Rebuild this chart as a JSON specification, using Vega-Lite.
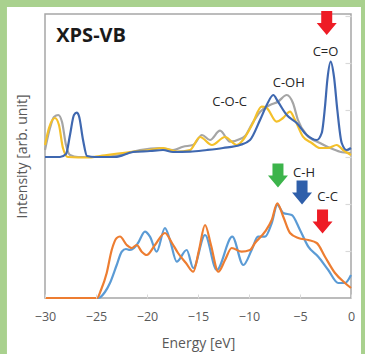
{
  "$schema": "https://vega.github.io/schema/vega-lite/v6.json",
  "width": 306,
  "height": 284,
  "autosize": {"type": "none"},
  "padding": {"left": 45, "top": 14, "right": 14, "bottom": 56},
  "background": "#a9d18e",
  "config": {"view": {"stroke": null}, "font": "Open Sans"},
  "datasets": {
    "top_gray": [
      {"energy": -30, "intensity": 148}, {"energy": -29.51, "intensity": 170}, {"energy": -29.12, "intensity": 181},
      {"energy": -28.7, "intensity": 183}, {"energy": -28.33, "intensity": 176}, {"energy": -27.94, "intensity": 153},
      {"energy": -27.55, "intensity": 143}, {"energy": -26.76, "intensity": 141}, {"energy": -24.61, "intensity": 141},
      {"energy": -22.65, "intensity": 143}, {"energy": -20.69, "intensity": 148}, {"energy": -18.73, "intensity": 150},
      {"energy": -17.45, "intensity": 148}, {"energy": -16.47, "intensity": 151.3}, {"energy": -15.49, "intensity": 153},
      {"energy": -14.61, "intensity": 163}, {"energy": -13.82, "intensity": 158}, {"energy": -12.84, "intensity": 167.3},
      {"energy": -11.86, "intensity": 156.3}, {"energy": -10.88, "intensity": 159}, {"energy": -10.39, "intensity": 162},
      {"energy": -9.71, "intensity": 174}, {"energy": -8.92, "intensity": 186}, {"energy": -7.94, "intensity": 193},
      {"energy": -7.16, "intensity": 196.3}, {"energy": -6.3, "intensity": 203}, {"energy": -5.69, "intensity": 195},
      {"energy": -5.2, "intensity": 178}, {"energy": -4.34, "intensity": 163}, {"energy": -3.04, "intensity": 155},
      {"energy": -2.06, "intensity": 150}, {"energy": -1.08, "intensity": 146.3}, {"energy": 0, "intensity": 145}
    ],
    "top_yellow": [
      {"energy": -30, "intensity": 153}, {"energy": -29.61, "intensity": 170}, {"energy": -29.02, "intensity": 180},
      {"energy": -28.63, "intensity": 173}, {"energy": -28.24, "intensity": 150}, {"energy": -27.75, "intensity": 141},
      {"energy": -25.78, "intensity": 140.5}, {"energy": -24.61, "intensity": 142}, {"energy": -21.67, "intensity": 146},
      {"energy": -19.71, "intensity": 148}, {"energy": -18.43, "intensity": 150}, {"energy": -17.06, "intensity": 146.3},
      {"energy": -15.78, "intensity": 148}, {"energy": -14.8, "intensity": 161}, {"energy": -13.63, "intensity": 153},
      {"energy": -12.35, "intensity": 161}, {"energy": -11.18, "intensity": 153}, {"energy": -10.59, "intensity": 158},
      {"energy": -9.71, "intensity": 173}, {"energy": -8.76, "intensity": 191.3}, {"energy": -8.27, "intensity": 190},
      {"energy": -7.29, "intensity": 176.3}, {"energy": -6.67, "intensity": 180}, {"energy": -5.98, "intensity": 186.3},
      {"energy": -5.49, "intensity": 178}, {"energy": -4.71, "intensity": 161.3}, {"energy": -3.85, "intensity": 155},
      {"energy": -3.04, "intensity": 150}, {"energy": -2.25, "intensity": 150}, {"energy": -1.4, "intensity": 153},
      {"energy": -0.78, "intensity": 148}, {"energy": 0, "intensity": 143}
    ],
    "top_blue": [
      {"energy": -30, "intensity": 141}, {"energy": -28.53, "intensity": 141}, {"energy": -27.94, "intensity": 144},
      {"energy": -27.55, "intensity": 163}, {"energy": -27.16, "intensity": 183}, {"energy": -26.89, "intensity": 185.3},
      {"energy": -26.67, "intensity": 182}, {"energy": -26.27, "intensity": 158}, {"energy": -25.88, "intensity": 142},
      {"energy": -25.1, "intensity": 141}, {"energy": -23.14, "intensity": 141}, {"energy": -21.37, "intensity": 146},
      {"energy": -19.71, "intensity": 147}, {"energy": -18.43, "intensity": 148}, {"energy": -17.45, "intensity": 146},
      {"energy": -15.78, "intensity": 146.3}, {"energy": -14.12, "intensity": 148}, {"energy": -12.55, "intensity": 150},
      {"energy": -10.88, "intensity": 153}, {"energy": -9.9, "intensity": 158}, {"energy": -8.92, "intensity": 178},
      {"energy": -8.26, "intensity": 193}, {"energy": -7.62, "intensity": 203}, {"energy": -7.16, "intensity": 196.3},
      {"energy": -6.3, "intensity": 183}, {"energy": -5.32, "intensity": 175}, {"energy": -4.34, "intensity": 163},
      {"energy": -3.36, "intensity": 158}, {"energy": -2.87, "intensity": 165}, {"energy": -2.55, "intensity": 191.3},
      {"energy": -2.32, "intensity": 218}, {"energy": -1.99, "intensity": 236.3}, {"energy": -1.67, "intensity": 221.3},
      {"energy": -1.34, "intensity": 188}, {"energy": -0.91, "intensity": 155}, {"energy": -0.42, "intensity": 148},
      {"energy": 0, "intensity": 150}
    ],
    "bottom_blue": [
      {"energy": -30, "intensity": 0}, {"energy": -24.8, "intensity": 0}, {"energy": -24.12, "intensity": 6},
      {"energy": -23.63, "intensity": 15}, {"energy": -22.97, "intensity": 33}, {"energy": -22.48, "intensity": 46.3},
      {"energy": -22.06, "intensity": 49}, {"energy": -21.67, "intensity": 48}, {"energy": -21.27, "intensity": 50},
      {"energy": -20.88, "intensity": 55}, {"energy": -20.2, "intensity": 66.3}, {"energy": -19.71, "intensity": 61.3},
      {"energy": -19.05, "intensity": 46.3}, {"energy": -18.24, "intensity": 70}, {"energy": -17.75, "intensity": 58},
      {"energy": -17.09, "intensity": 36.3}, {"energy": -16.11, "intensity": 48}, {"energy": -15.46, "intensity": 30},
      {"energy": -14.31, "intensity": 63}, {"energy": -13.17, "intensity": 28}, {"energy": -11.64, "intensity": 61.3},
      {"energy": -10.56, "intensity": 33}, {"energy": -9.74, "intensity": 48}, {"energy": -9.12, "intensity": 61.3},
      {"energy": -8.43, "intensity": 61.3}, {"energy": -7.77, "intensity": 75}, {"energy": -7.23, "intensity": 93},
      {"energy": -6.64, "intensity": 85}, {"energy": -5.81, "intensity": 83}, {"energy": -5.0, "intensity": 68},
      {"energy": -4.19, "intensity": 51.3}, {"energy": -3.21, "intensity": 41.3}, {"energy": -2.23, "intensity": 28},
      {"energy": -1.25, "intensity": 15}, {"energy": -0.59, "intensity": 15}, {"energy": 0, "intensity": 23}
    ],
    "bottom_orange": [
      {"energy": -30, "intensity": 0}, {"energy": -24.9, "intensity": 0}, {"energy": -24.51, "intensity": 8},
      {"energy": -23.95, "intensity": 25}, {"energy": -23.46, "intensity": 48}, {"energy": -22.97, "intensity": 60},
      {"energy": -22.65, "intensity": 61.5}, {"energy": -21.99, "intensity": 53}, {"energy": -21.5, "intensity": 50},
      {"energy": -21.01, "intensity": 53}, {"energy": -20.52, "intensity": 46.3}, {"energy": -20.03, "intensity": 43},
      {"energy": -19.22, "intensity": 53}, {"energy": -18.24, "intensity": 65}, {"energy": -17.55, "intensity": 55},
      {"energy": -16.96, "intensity": 45}, {"energy": -16.18, "intensity": 35}, {"energy": -15.46, "intensity": 26.3},
      {"energy": -14.9, "intensity": 48}, {"energy": -14.31, "intensity": 73}, {"energy": -13.73, "intensity": 53},
      {"energy": -13.01, "intensity": 26.3}, {"energy": -12.35, "intensity": 38}, {"energy": -11.7, "intensity": 50},
      {"energy": -10.72, "intensity": 46.3}, {"energy": -9.9, "intensity": 48}, {"energy": -9.41, "intensity": 55},
      {"energy": -8.43, "intensity": 66.3}, {"energy": -7.77, "intensity": 78}, {"energy": -7.23, "intensity": 94.7},
      {"energy": -6.64, "intensity": 81.3}, {"energy": -5.98, "intensity": 65}, {"energy": -5.17, "intensity": 60},
      {"energy": -4.19, "intensity": 58}, {"energy": -3.36, "intensity": 55}, {"energy": -2.55, "intensity": 41.3},
      {"energy": -1.57, "intensity": 25}, {"energy": -0.59, "intensity": 15}, {"energy": 0, "intensity": 10}
    ],
    "labels": [
      {"energy": -2.5, "intensity": 246, "label": "C=O"},
      {"energy": -6.1, "intensity": 215, "label": "C-OH"},
      {"energy": -11.9, "intensity": 196, "label": "C-O-C"},
      {"energy": -4.6, "intensity": 125, "label": "C-H"},
      {"energy": -2.3, "intensity": 101, "label": "C-C"}
    ],
    "arrows": [
      {"energy": -2.38, "intensity": 275, "kind": "red"},
      {"energy": -7.16, "intensity": 122.5, "kind": "green"},
      {"energy": -4.8, "intensity": 105.5, "kind": "blue"},
      {"energy": -2.79, "intensity": 76.5, "kind": "red"}
    ]
  },
  "layer": [
    {
      "data": {"values": [{}]},
      "mark": {"type": "rect", "fill": "white", "clip": false},
      "encoding": {
        "x": {"datum": -33.73, "type": "quantitative", "scale": {"domain": [-30, 0], "nice": false, "zero": false},
          "axis": {"title": "Energy [eV]", "values": [-30, -25, -20, -15, -10, -5, 0], "labelFontSize": 12.5, "labelColor": "#595959",
            "titleFontSize": 14, "titleColor": "#595959", "titleFontWeight": "normal", "titlePadding": 14, "domain": false,
            "labelFlush": false, "ticks": true, "tickSize": -4, "tickColor": "#d9d9d9", "labelPadding": 16, "grid": false, "zindex": 1}},
        "x2": {"datum": 0.98},
        "y": {"datum": 291, "type": "quantitative", "scale": {"domain": [0, 284], "nice": false},
          "axis": {"title": "Intensity [arb. unit]", "labels": false, "ticks": false, "domain": false, "grid": false,
            "titleFontSize": 14, "titleColor": "#595959", "titleFontWeight": "normal", "titlePadding": 16, "zindex": 1}},
        "y2": {"datum": -62}
      }
    },
    {
      "data": {"values": [{}]},
      "mark": {"type": "rect", "fill": null, "stroke": "#a6a6a6", "strokeWidth": 1.5, "clip": false},
      "encoding": {
        "x": {"datum": -30, "type": "quantitative"},
        "x2": {"datum": 0},
        "y": {"datum": 0, "type": "quantitative",
          "axis": {"orient": "right", "title": null, "labels": false, "domain": false, "grid": false, "ticks": true,
            "tickSize": -6, "tickColor": "#d9d9d9", "tickWidth": 1.2, "values": [47, 94, 141, 188, 235, 282], "zindex": 1}},
        "y2": {"datum": 284}
      }
    },
    {
      "data": {"name": "top_gray"},
      "mark": {"type": "line", "interpolate": "monotone", "color": "#a5a5a5", "strokeWidth": 2.2},
      "encoding": {"x": {"field": "energy", "type": "quantitative"}, "y": {"field": "intensity", "type": "quantitative", "axis": null}}
    },
    {
      "data": {"name": "top_yellow"},
      "mark": {"type": "line", "interpolate": "monotone", "color": "#f4c02a", "strokeWidth": 2.2},
      "encoding": {"x": {"field": "energy", "type": "quantitative"}, "y": {"field": "intensity", "type": "quantitative", "axis": null}}
    },
    {
      "data": {"name": "top_blue"},
      "mark": {"type": "line", "interpolate": "monotone", "color": "#3f68b0", "strokeWidth": 2.2},
      "encoding": {"x": {"field": "energy", "type": "quantitative"}, "y": {"field": "intensity", "type": "quantitative", "axis": null}}
    },
    {
      "data": {"name": "bottom_blue"},
      "mark": {"type": "line", "interpolate": "monotone", "color": "#5b9bd5", "strokeWidth": 2.2},
      "encoding": {"x": {"field": "energy", "type": "quantitative"}, "y": {"field": "intensity", "type": "quantitative", "axis": null}}
    },
    {
      "data": {"name": "bottom_orange"},
      "mark": {"type": "line", "interpolate": "monotone", "color": "#ed7d31", "strokeWidth": 2.2},
      "encoding": {"x": {"field": "energy", "type": "quantitative"}, "y": {"field": "intensity", "type": "quantitative", "axis": null}}
    },
    {
      "data": {"name": "labels"},
      "mark": {"type": "text", "fontSize": 13, "color": "#262626", "align": "center", "baseline": "middle"},
      "encoding": {"x": {"field": "energy", "type": "quantitative"}, "y": {"field": "intensity", "type": "quantitative", "axis": null}, "text": {"field": "label"}}
    },
    {
      "data": {"values": [{"energy": -28.9, "intensity": 262, "label": "XPS-VB"}]},
      "mark": {"type": "text", "fontSize": 20, "fontWeight": "bold", "color": "#1a1a1a", "align": "left", "baseline": "middle"},
      "encoding": {"x": {"field": "energy", "type": "quantitative"}, "y": {"field": "intensity", "type": "quantitative", "axis": null}, "text": {"field": "label"}}
    },
    {
      "data": {"name": "arrows"},
      "mark": {"type": "point", "filled": true, "opacity": 1, "clip": false,
        "shape": "M-0.55,-1.2L0.55,-1.2L0.55,0L1,0L0,1.2L-1,0L-0.55,0Z", "size": 400},
      "encoding": {
        "x": {"field": "energy", "type": "quantitative"},
        "y": {"field": "intensity", "type": "quantitative", "axis": null},
        "color": {"field": "kind", "type": "nominal", "legend": null,
          "scale": {"domain": ["red", "green", "blue"], "range": ["#ee1c25", "#3cb44b", "#2f5faa"]}}
      }
    }
  ],
  "resolve": {"axis": {"y": "independent"}}
}
